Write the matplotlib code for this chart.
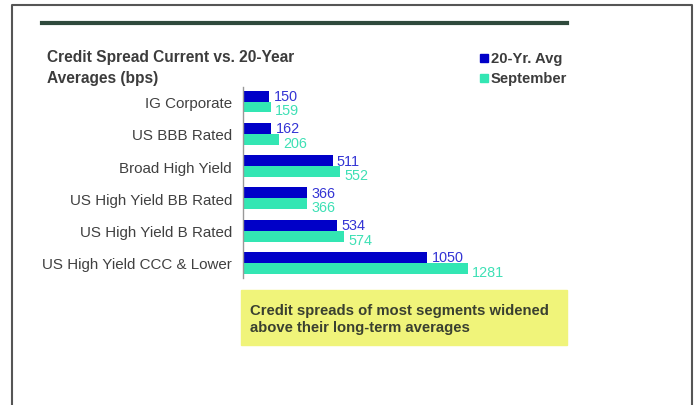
import numpy as np
import matplotlib.pyplot as plt
from matplotlib.lines import Line2D
from matplotlib.patches import Rectangle

plt.rcParams['font.family'] = ['Liberation Sans', 'DejaVu Sans']

# datos
categorias = ['IG Corporate', 'US BBB Rated', 'Broad High Yield',
              'US High Yield BB Rated', 'US High Yield B Rated',
              'US High Yield CCC & Lower']
promedio_20 = [150, 162, 511, 366, 534, 1050]
septiembre = [159, 206, 552, 366, 574, 1281]
series = ['20-Yr. Avg', 'September']

azul = '#0000c8'
verde = '#33e6b3'
gris = '#3c3c3c'

W, H = 697, 406
fig = plt.figure(figsize=(W / 100, H / 100), dpi=100)

def fx(px):
    return px / W

def fy(py):
    return 1 - py / H

# marco exterior y linea superior
fig.add_artist(Line2D([fx(12), fx(12), fx(692), fx(692)], [0, fy(6), fy(6), 0],
                      color='#555555', lw=1.5))
fig.add_artist(Line2D([fx(42), fx(567)], [fy(24), fy(24)], color='#2f4a3c', lw=3))

# titulo
fig.text(fx(47), fy(58), 'Credit Spread Current vs. 20-Year', fontsize=11.2,
         fontweight='bold', color=gris, va='center')
fig.text(fx(47), fy(78), 'Averages (bps)', fontsize=11.2,
         fontweight='bold', color=gris, va='center')

# leyenda
for i, (nombre, c) in enumerate(zip(series, [azul, verde])):
    y = fy(59 + 20 * i)
    fig.add_artist(Rectangle((fx(480), y - 4 / H), 8 / W, 8 / H, color=c))
    fig.text(fx(491), y, nombre, fontsize=10.6, fontweight='bold', color=gris, va='center')

# grafico de barras
ax = fig.add_axes([fx(243), fy(279), fx(600) - fx(243), (279 - 88) / H])
y = np.arange(len(categorias))
h = 0.34
ax.barh(y - h / 2, promedio_20, height=h, color=azul)
ax.barh(y + h / 2, septiembre, height=h, color=verde)
ax.set_xlim(0, (600 - 243) / (225 / 1281))
ax.set_ylim(len(categorias) - 0.53, -0.45)

for yi, a, s in zip(y, promedio_20, septiembre):
    ax.annotate(str(a), (a, yi - h / 2), xytext=(3, 0), textcoords='offset points',
                va='center', ha='left', fontsize=10.4, color='#3434d4')
    ax.annotate(str(s), (s, yi + h / 2), xytext=(3, -2.5), textcoords='offset points',
                va='center', ha='left', fontsize=10.4, color='#3ee0b5')

ax.set_yticks(y)
ax.set_yticklabels(categorias, fontsize=10.9, color='#404040')
ax.tick_params(axis='y', length=0, pad=8)
ax.set_xticks([])
for lado in ['top', 'right', 'bottom']:
    ax.spines[lado].set_visible(False)
ax.spines['left'].set_color('#999999')
ax.spines['left'].set_linewidth(1)
ax.patch.set_visible(False)

# recuadro amarillo
fig.add_artist(Rectangle((fx(241), fy(346)), (567 - 241) / W, (346 - 291) / H,
                         color='#f0f47a', zorder=0))
fig.text(fx(250), fy(311), 'Credit spreads of most segments widened', fontsize=10.75,
         fontweight='bold', color='#3a4030', va='center')
fig.text(fx(250), fy(328), 'above their long-term averages', fontsize=10.75,
         fontweight='bold', color='#3a4030', va='center')

fig.savefig('out.png', dpi=100)
